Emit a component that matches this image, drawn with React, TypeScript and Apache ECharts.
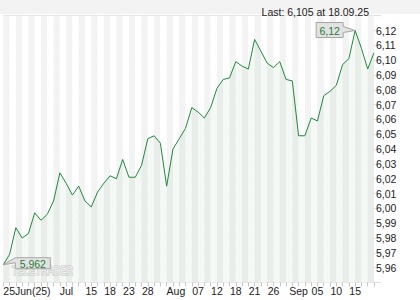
import React, { useEffect, useRef } from "react";
import * as echarts from "echarts";

// Trading days (dd.mm.yy)
const dates: string[] = [
  "25.06.25", "26.06.25", "27.06.25", "30.06.25",
  "01.07.25", "02.07.25", "03.07.25", "04.07.25", "07.07.25", "08.07.25", "09.07.25", "10.07.25", "11.07.25",
  "14.07.25", "15.07.25", "16.07.25", "17.07.25", "18.07.25", "21.07.25", "22.07.25", "23.07.25", "24.07.25",
  "25.07.25", "28.07.25", "29.07.25", "30.07.25", "31.07.25",
  "01.08.25", "04.08.25", "05.08.25", "06.08.25", "07.08.25", "08.08.25", "11.08.25", "12.08.25", "13.08.25",
  "14.08.25", "18.08.25", "19.08.25", "20.08.25", "21.08.25", "22.08.25", "25.08.25", "26.08.25", "27.08.25",
  "28.08.25", "29.08.25",
  "02.09.25", "03.09.25", "04.09.25", "05.09.25", "08.09.25", "09.09.25", "10.09.25", "11.09.25", "12.09.25",
  "15.09.25", "16.09.25", "17.09.25", "18.09.25",
];

const prices: number[] = [
  5.962, 5.969, 5.987, 5.980,
  5.983, 5.997, 5.992, 5.996, 6.005, 6.024, 6.017, 6.009, 6.015,
  6.005, 6.001, 6.011, 6.017, 6.022, 6.020, 6.033, 6.021, 6.021,
  6.029, 6.047, 6.049, 6.044, 6.015,
  6.040, 6.047, 6.054, 6.068, 6.065, 6.061, 6.068, 6.081, 6.087,
  6.088, 6.099, 6.096, 6.094, 6.114, 6.106, 6.098, 6.095, 6.099,
  6.087, 6.086,
  6.049, 6.049, 6.061, 6.059, 6.076, 6.079, 6.083, 6.097, 6.101,
  6.120, 6.108, 6.094, 6.105,
];

// x tick labels keyed by date
const tickLabels: Record<string, string> = {
  "25.06.25": "25Jun(25)",
  "01.07.25": "Jul",
  "15.07.25": "15",
  "18.07.25": "18",
  "23.07.25": "23",
  "28.07.25": "28",
  "01.08.25": "Aug",
  "07.08.25": "07",
  "12.08.25": "12",
  "18.08.25": "18",
  "21.08.25": "21",
  "26.08.25": "26",
  "02.09.25": "Sep",
  "05.09.25": "05",
  "10.09.25": "10",
  "15.09.25": "15",
};

const yMin = 5.95;
const yMax = 6.13;
const yStep = 0.01;

const FONT = "'Liberation Sans', Arial, sans-serif";
const LINE = "#1f8a3c";

const fmt = (v: number) => String(Number(v.toFixed(3))).replace(".", ",");

export default function App() {
  const ref = useRef<HTMLDivElement>(null);

  useEffect(() => {
    if (!ref.current) return;
    const chart = echarts.init(ref.current, null, { renderer: "svg" });
    const last = prices[prices.length - 1];
    const lastDate = dates[dates.length - 1];

    chart.setOption({
      animation: false,
      backgroundColor: "#ffffff",
      title: {
        text: `Last: ${fmt(last)} at ${lastDate}`,
        right: 46,
        top: 1,
        textStyle: { fontFamily: FONT, fontSize: 10.5, fontWeight: "normal", color: "#222" },
      },
      grid: { left: 3.3, right: 46, top: 15.7, bottom: 17.5, containLabel: false },
      xAxis: {
        type: "category",
        data: dates,
        boundaryGap: false,
        axisLine: { show: false },
        axisTick: { show: true, interval: 0, length: 4, lineStyle: { color: "#c8c8c8" } },
        axisLabel: {
          interval: (_i: number, v: string) => v in tickLabels,
          alignMinLabel: "left",
          margin: 3,
          fontFamily: FONT,
          fontSize: 10.5,
          color: "#222",
          formatter: (v: string) => {
            const t = tickLabels[v] || "";
            if (t === "Jul") return "{jul|Jul}";
            if (t === "Aug") return "{aug|Aug}";
            return t;
          },
          rich: {
            jul: { padding: [0, 0, 0, 76], fontFamily: FONT, fontSize: 10.5, color: "#222" },
            aug: { padding: [0, 0, 0, 6], fontFamily: FONT, fontSize: 10.5, color: "#222" },
          },
        },
        splitLine: { show: false },
        splitArea: { show: true, interval: 0, areaStyle: { color: ["#f3f3f3", "#ffffff"] } },
      },
      yAxis: {
        type: "value",
        position: "right",
        min: yMin,
        max: yMax,
        interval: yStep,
        axisLine: { show: false },
        axisTick: { show: true, length: 7, lineStyle: { color: "#e0e0e0" } },
        axisLabel: {
          margin: 2,
          fontFamily: FONT,
          fontSize: 10.5,
          color: "#222",
          formatter: (v: number) => {
            const r = Math.round(v * 100) / 100;
            if (r <= yMin + 1e-9 || r >= yMax - 1e-9) return "";
            return r.toFixed(2).replace(".", ",");
          },
        },
        splitLine: { show: true, lineStyle: { color: "#e0e0e0", width: 1 } },
      },
      series: [
        {
          type: "line",
          data: prices,
          showSymbol: false,
          symbol: "none",
          lineStyle: { color: LINE, width: 1 },
          areaStyle: { color: "rgba(40,130,50,0.075)", origin: "start" },
          z: 3,
        },
      ],
    });

    let minIdx = 0, maxIdx = 0;
    prices.forEach((p, i) => {
      if (p < prices[minIdx]) minIdx = i;
      if (p > prices[maxIdx]) maxIdx = i;
    });
    const pMin = chart.convertToPixel({ seriesIndex: 0 }, [minIdx, prices[minIdx]]) as number[];
    const pMax = chart.convertToPixel({ seriesIndex: 0 }, [maxIdx, prices[maxIdx]]) as number[];

    const boxFill = "#e2e2e2";
    const boxStroke = "#a6a6a6";
    // min callout box to the right of point
    const a0 = pMin[0] + 12, a1 = pMin[0] + 47, b0 = pMin[1] - 7, b1 = pMin[1] + 4;
    // max callout box to the left of point
    const c0 = pMax[0] - 39, c1 = pMax[0] - 12, d0 = pMax[1] - 8, d1 = pMax[1] + 7;

    chart.setOption({
      graphic: [
        { type: "rect", left: 0, top: 0, shape: { width: 420, height: 14 }, style: { fill: "#f3f3f3" }, z: -1, silent: true },
        {
          type: "text",
          x: 12,
          y: 264,
          scaleX: 0.7,
          z: 4,
          silent: true,
          style: {
            text: "TELETRADER",
            fontFamily: FONT,
            fontSize: 13,
            fontWeight: "bold",
            fill: "rgba(255,255,255,0.5)",
            stroke: "#c4c4c4",
            lineWidth: 1,
          },
        },
        {
          type: "polygon",
          z: 10,
          shape: {
            points: [
              [pMin[0], pMin[1]],
              [a0, b0],
              [a1, b0],
              [a1, b1],
              [a0, b1],
              [a0, b0 + 5],
            ],
          },
          style: { fill: boxFill, stroke: boxStroke, lineWidth: 1 },
        },
        {
          type: "text",
          z: 11,
          x: (a0 + a1) / 2,
          y: (b0 + b1) / 2 + 0.5,
          style: { text: fmt(prices[minIdx]), fontFamily: FONT, fontSize: 10.5, fill: "#2a7a3a", align: "center", verticalAlign: "middle" },
        },
        {
          type: "polygon",
          z: 10,
          shape: {
            points: [
              [c0, d0],
              [c1, d0],
              [c1, d0 + 4],
              [pMax[0], pMax[1]],
              [c1, d0 + 10],
              [c1, d1],
              [c0, d1],
            ],
          },
          style: { fill: boxFill, stroke: boxStroke, lineWidth: 1 },
        },
        {
          type: "text",
          z: 11,
          x: (c0 + c1) / 2,
          y: (d0 + d1) / 2 + 0.5,
          style: { text: fmt(prices[maxIdx]), fontFamily: FONT, fontSize: 10.5, fill: "#2a7a3a", align: "center", verticalAlign: "middle" },
        },
      ],
    });

    return () => chart.dispose();
  }, []);

  return (
    <div
      ref={ref}
      style={{ position: "absolute", left: 0, top: 0, width: 420, height: 300 }}
    />
  );
}
